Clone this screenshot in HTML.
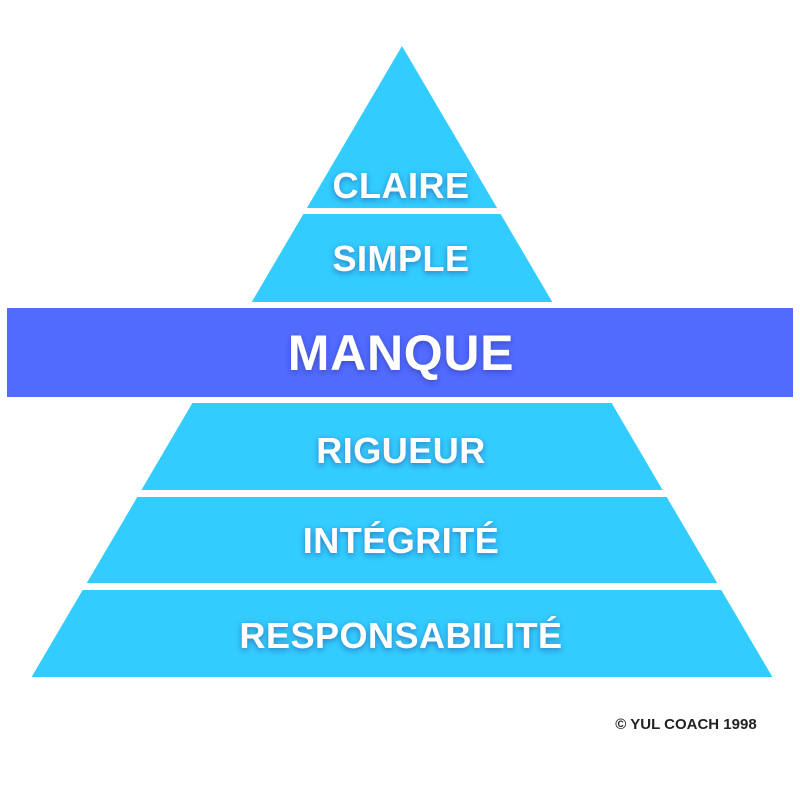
<!DOCTYPE html>
<html><head><meta charset="utf-8"><style>
html,body{margin:0;padding:0;background:#fff;}
svg{display:block}
text{font-family:"Liberation Sans",sans-serif;font-weight:bold;fill:#fff;text-anchor:middle;}
</style></head><body>
<svg width="800" height="800" viewBox="0 0 800 800" xmlns="http://www.w3.org/2000/svg">
<defs><filter id="sh" x="-20%" y="-50%" width="140%" height="200%"><feDropShadow dx="0" dy="2" stdDeviation="3" flood-color="#1a2a80" flood-opacity="0.5"/></filter></defs>
<rect width="800" height="800" fill="#fff"/>
<g fill="#33ccff">
<polygon points="402,46 497.1,208 306.9,208"/>
<polygon points="303.4,214 500.6,214 552.3,302 251.7,302"/>
<polygon points="192.4,403 611.6,403 662.6,490 141.4,490"/>
<polygon points="137.3,497 666.7,497 717.2,583 86.8,583"/>
<polygon points="82.7,590 721.3,590 772.4,677 31.6,677"/>
</g>
<rect x="7" y="308" width="786" height="89" fill="#526bff"/>
<g filter="url(#sh)">
<text x="401" y="198" font-size="36" letter-spacing="0.5">CLAIRE</text>
<text x="401" y="271" font-size="36" letter-spacing="0.5">SIMPLE</text>
<text x="401" y="370" font-size="50" letter-spacing="0.7">MANQUE</text>
<text x="401" y="463" font-size="36" letter-spacing="0.5">RIGUEUR</text>
<text x="401" y="553" font-size="36" letter-spacing="0.5">INTÉGRITÉ</text>
<text x="401" y="648" font-size="36" letter-spacing="0.5">RESPONSABILITÉ</text>
</g>
<text x="686" y="729" font-size="15" style="fill:#222">© YUL COACH 1998</text>
</svg>
</body></html>
